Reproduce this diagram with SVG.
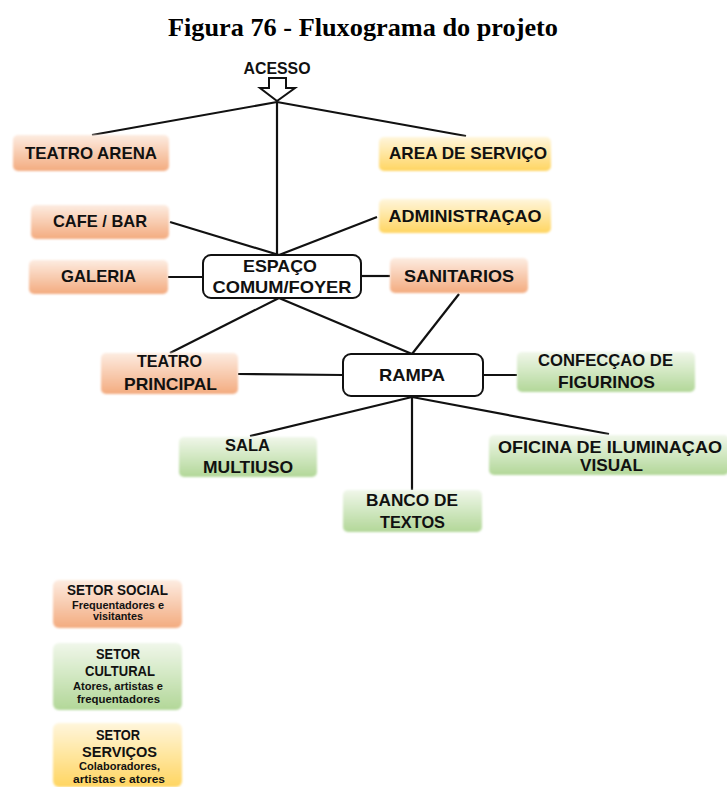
<svg xmlns="http://www.w3.org/2000/svg" width="727" height="787" viewBox="0 0 727 787">
<defs>
<linearGradient id="gO" x1="0" y1="0" x2="0" y2="1"><stop offset="0" stop-color="#fdece1"/><stop offset="1" stop-color="#f3ab7f"/></linearGradient>
<linearGradient id="gG" x1="0" y1="0" x2="0" y2="1"><stop offset="0" stop-color="#f0f7ea"/><stop offset="1" stop-color="#b2d798"/></linearGradient>
<linearGradient id="gY" x1="0" y1="0" x2="0" y2="1"><stop offset="0" stop-color="#fff6dc"/><stop offset="1" stop-color="#ffd561"/></linearGradient>
<filter id="soft" x="-5%" y="-10%" width="110%" height="120%"><feGaussianBlur stdDeviation="1"/></filter>
<style>
.o{fill:url(#gO);filter:url(#soft)}
.g{fill:url(#gG);filter:url(#soft)}
.y{fill:url(#gY);filter:url(#soft)}
.w{fill:#fff;stroke:#111;stroke-width:2}
.t{font-family:"Liberation Sans",Arial,sans-serif;font-weight:bold;font-size:17px;fill:#111;text-anchor:middle}
.l{font-family:"Liberation Sans",Arial,sans-serif;font-weight:bold;font-size:14px;fill:#111;text-anchor:middle}
.s{font-family:"Liberation Sans",Arial,sans-serif;font-weight:bold;font-size:11px;fill:#111;text-anchor:middle}
.c line{stroke:#111;stroke-width:2.2}
</style>
</defs>
<rect width="727" height="787" fill="#fff"/>
<text x="363" y="36" font-family="'Liberation Serif','Times New Roman',serif" font-weight="bold" font-size="25" text-anchor="middle" fill="#000" textLength="390" lengthAdjust="spacingAndGlyphs">Figura 76 - Fluxograma do projeto</text>

<g id="connectors" class="c">
<line x1="277" y1="102" x2="92" y2="135"/>
<line x1="277" y1="102" x2="466" y2="136"/>
<line x1="277" y1="102" x2="277" y2="255"/>
<line x1="170" y1="222" x2="279" y2="255"/>
<line x1="377" y1="217" x2="279" y2="255"/>
<line x1="168" y1="277" x2="203" y2="277"/>
<line x1="361" y1="276" x2="390" y2="276"/>
<line x1="279" y1="298" x2="170" y2="353"/>
<line x1="279" y1="298" x2="412" y2="354"/>
<line x1="459" y1="294" x2="412" y2="354"/>
<line x1="238" y1="374" x2="343" y2="375"/>
<line x1="483" y1="375" x2="517" y2="375"/>
<line x1="412" y1="397" x2="250" y2="436"/>
<line x1="412" y1="397" x2="412" y2="490"/>
<line x1="412" y1="397" x2="609" y2="434"/>
</g>

<g id="acesso">
<text class="t" x="277" y="74" font-size="15" textLength="67" lengthAdjust="spacingAndGlyphs">ACESSO</text>
<polygon points="269,78 286,78 286,88 295,88 277,101 260,88 269,88" fill="#fff" stroke="#111" stroke-width="2" stroke-linejoin="miter"/>
</g>

<g id="teatro-arena"><rect class="o" x="13" y="135" width="156" height="36" rx="5"/><text class="t" x="91" y="159" textLength="132" lengthAdjust="spacingAndGlyphs">TEATRO ARENA</text></g>
<g id="area-servico"><rect class="y" x="379" y="137" width="172" height="34" rx="5"/><text class="t" x="468" y="159" textLength="158" lengthAdjust="spacingAndGlyphs">AREA DE SERVIÇO</text></g>
<g id="cafe-bar"><rect class="o" x="31" y="205" width="138" height="34" rx="5"/><text class="t" x="100" y="227" textLength="94" lengthAdjust="spacingAndGlyphs">CAFE / BAR</text></g>
<g id="administracao"><rect class="y" x="379" y="199" width="172" height="34" rx="5"/><text class="t" x="465" y="222" textLength="153" lengthAdjust="spacingAndGlyphs">ADMINISTRAÇAO</text></g>
<g id="galeria"><rect class="o" x="29" y="260" width="139" height="34" rx="5"/><text class="t" x="98.5" y="282" textLength="75" lengthAdjust="spacingAndGlyphs">GALERIA</text></g>
<g id="espaco"><rect class="w" x="203" y="255" width="158" height="43" rx="8"/><text class="t" x="280" y="272" textLength="74" lengthAdjust="spacingAndGlyphs">ESPAÇO</text><text class="t" x="282" y="293" textLength="139" lengthAdjust="spacingAndGlyphs">COMUM/FOYER</text></g>
<g id="sanitarios"><rect class="o" x="390" y="258" width="138" height="35" rx="5"/><text class="t" x="459" y="282" textLength="110" lengthAdjust="spacingAndGlyphs">SANITARIOS</text></g>
<g id="teatro-principal"><rect class="o" x="101" y="353" width="137" height="41" rx="5"/><text class="t" x="169.5" y="367" textLength="65" lengthAdjust="spacingAndGlyphs">TEATRO</text><text class="t" x="170.5" y="390" textLength="93" lengthAdjust="spacingAndGlyphs">PRINCIPAL</text></g>
<g id="rampa"><rect class="w" x="343" y="354" width="140" height="42" rx="8"/><text class="t" x="412" y="381" textLength="66" lengthAdjust="spacingAndGlyphs">RAMPA</text></g>
<g id="confeccao"><rect class="g" x="517" y="352" width="178" height="40" rx="5"/><text class="t" x="605.5" y="366" textLength="135" lengthAdjust="spacingAndGlyphs">CONFECÇAO DE</text><text class="t" x="606.5" y="388" textLength="97" lengthAdjust="spacingAndGlyphs">FIGURINOS</text></g>
<g id="sala-multiuso"><rect class="g" x="179" y="437" width="138" height="40" rx="5"/><text class="t" x="247.5" y="451" textLength="45" lengthAdjust="spacingAndGlyphs">SALA</text><text class="t" x="248" y="473" textLength="90" lengthAdjust="spacingAndGlyphs">MULTIUSO</text></g>
<g id="oficina"><rect class="g" x="489" y="435" width="240" height="40" rx="5"/><text class="t" x="610" y="453" textLength="224" lengthAdjust="spacingAndGlyphs">OFICINA DE ILUMINAÇAO</text><text class="t" x="611.5" y="471" textLength="63" lengthAdjust="spacingAndGlyphs">VISUAL</text></g>
<g id="banco"><rect class="g" x="343" y="490" width="139" height="42" rx="5"/><text class="t" x="412" y="506" textLength="92" lengthAdjust="spacingAndGlyphs">BANCO DE</text><text class="t" x="412.5" y="528" textLength="65" lengthAdjust="spacingAndGlyphs">TEXTOS</text></g>

<g id="legend-social"><rect class="o" x="53" y="580" width="129" height="48" rx="6"/><text class="l" x="117.5" y="595" textLength="101" lengthAdjust="spacingAndGlyphs">SETOR SOCIAL</text><text class="s" x="118" y="609" textLength="92" lengthAdjust="spacingAndGlyphs">Frequentadores e</text><text class="s" x="118" y="620" textLength="50" lengthAdjust="spacingAndGlyphs">visitantes</text></g>
<g id="legend-cultural"><rect class="g" x="53" y="643" width="129" height="67" rx="6"/><text class="l" x="118" y="659" textLength="44" lengthAdjust="spacingAndGlyphs">SETOR</text><text class="l" x="120" y="676" textLength="70" lengthAdjust="spacingAndGlyphs">CULTURAL</text><text class="s" x="118" y="690" textLength="90" lengthAdjust="spacingAndGlyphs">Atores, artistas e</text><text class="s" x="118.5" y="703" textLength="83" lengthAdjust="spacingAndGlyphs">frequentadores</text></g>
<g id="legend-servicos"><rect class="y" x="53" y="723" width="129" height="64" rx="6"/><text class="l" x="118" y="740" textLength="44" lengthAdjust="spacingAndGlyphs">SETOR</text><text class="l" x="119.5" y="757" textLength="75" lengthAdjust="spacingAndGlyphs">SERVIÇOS</text><text class="s" x="119.5" y="770" textLength="81" lengthAdjust="spacingAndGlyphs">Colaboradores,</text><text class="s" x="119" y="783" textLength="92" lengthAdjust="spacingAndGlyphs">artistas e atores</text></g>
</svg>
